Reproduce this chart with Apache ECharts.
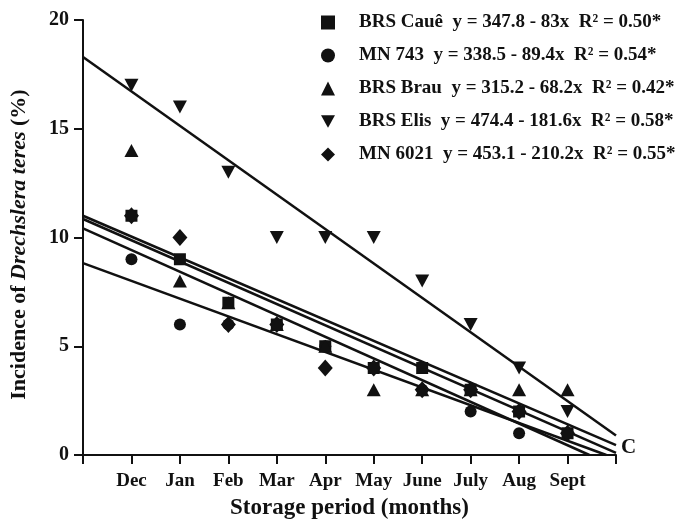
<!DOCTYPE html>
<html>
<head>
<meta charset="utf-8">
<script src="https://cdn.jsdelivr.net/npm/echarts@6/dist/echarts.min.js"></script>
<style>
html,body{margin:0;padding:0;background:#fff;}
#chart{width:677px;height:523px;}
</style>
</head>
<body>
<div id="chart"></div>
<script>
// ---- data ----
const monthTicks = ['', 'Dec', 'Jan', 'Feb', 'Mar', 'Apr', 'May', 'June', 'July', 'Aug', 'Sept', ''];
const monthX = [1, 2, 3, 4, 5, 6, 7, 8, 9, 10];
const cultivars = ['BRS Cauê', 'MN 743', 'BRS Brau', 'BRS Elis', 'MN 6021'];
const equations = [
  'y = 347.8 - 83x  R² = 0.50*',
  'y = 338.5 - 89.4x  R² = 0.54*',
  'y = 315.2 - 68.2x  R² = 0.42*',
  'y = 474.4 - 181.6x  R² = 0.58*',
  'y = 453.1 - 210.2x  R² = 0.55*'
];
const valuesCaue   = [11, 9, 7, 6, 5, 4, 4, 3, 2, 1];
const valuesMN743  = [9, 6, 6, 6, 5, 4, 3, 2, 1, 1];
const valuesBrau   = [14, 8, 7, 6, 5, 3, 3, 3, 3, 3];
const valuesElis   = [17, 16, 13, 10, 10, 10, 8, 6, 4, 2];
const valuesMN6021 = [11, 10, 6, 6, 4, 4, 3, 3, 2, 1];
// fitted lines as drawn (start / end points)
const lineCaue   = [[0, 11.0], [11, 0.45]];
const lineMN743  = [[0, 8.82], [10.8, 0]];
const lineBrau   = [[0, 10.85], [11, 0.1]];
const lineElis   = [[0, 18.3], [11, 0.9]];
const lineMN6021 = [[0, 10.42], [10.45, 0]];
const yTicks = [0, 5, 10, 15, 20];

const seriesValues = [valuesCaue, valuesMN743, valuesBrau, valuesElis, valuesMN6021];
const seriesLines = [lineCaue, lineMN743, lineBrau, lineElis, lineMN6021];
const symbols = ['rect', 'circle', 'triangle', 'path://M0,0 L10,0 L5,9 Z', 'diamond'];
const symbolSizes = [12, 12, [14, 13], [14, 13], [15, 17]];

const FONT = '"Liberation Serif", "Times New Roman", serif';
const INK = '#111';

const chart = echarts.init(document.getElementById('chart'), null, {renderer: 'canvas'});

const series = [];
seriesLines.forEach((ln, i) => {
  series.push({
    name: cultivars[i] + ' fit',
    type: 'line',
    data: ln,
    symbol: 'none',
    silent: true,
    z: 2,
    lineStyle: {color: INK, width: 2.5},
    animation: false
  });
});
seriesValues.forEach((vals, i) => {
  series.push({
    name: cultivars[i],
    type: 'scatter',
    data: vals.map((v, k) => [monthX[k], v]),
    symbol: symbols[i],
    symbolSize: symbolSizes[i],
    itemStyle: {color: INK, opacity: 1},
    z: 3,
    animation: false
  });
});

chart.setOption({
  backgroundColor: '#fff',
  animation: false,
  grid: {left: 83, right: 61, top: 20, bottom: 68, containLabel: false, outerBoundsMode: 'none'},
  legend: {
    data: cultivars.map((c, i) => ({name: c, icon: symbols[i]})),
    orient: 'vertical',
    left: 316,
    top: 7,
    itemWidth: 14,
    itemHeight: 14,
    itemGap: 12,
    selectedMode: false,
    formatter: function (name) {
      const i = cultivars.indexOf(name);
      return name + '  ' + equations[i];
    },
    textStyle: {
      fontFamily: FONT, fontWeight: 'bold', fontSize: 19, color: INK,
      lineHeight: 21, padding: [0, 0, 0, 19]
    },
    itemStyle: {color: INK, opacity: 1}
  },
  xAxis: {
    type: 'value',
    min: 0, max: 11, interval: 1,
    name: 'Storage period (months)',
    nameLocation: 'middle',
    nameGap: 42,
    nameTextStyle: {fontFamily: FONT, fontWeight: 'bold', fontSize: 23, color: INK},
    axisLine: {show: true, lineStyle: {color: INK, width: 2}},
    axisTick: {show: true, length: 9, lineStyle: {color: INK, width: 2}},
    axisLabel: {
      margin: 17,
      fontFamily: FONT, fontWeight: 'bold', fontSize: 19, color: INK,
      formatter: v => monthTicks[v] || ''
    },
    splitLine: {show: false}
  },
  yAxis: {
    type: 'value',
    min: yTicks[0], max: yTicks[yTicks.length - 1], interval: 5,
    name: 'Incidence of {i|Drechslera teres} (%)',
    nameLocation: 'middle',
    nameGap: 53,
    nameTextStyle: {
      fontFamily: FONT, fontWeight: 'bold', fontSize: 22, color: INK,
      padding: [0, 14, 0, 0],
      rich: {i: {fontFamily: FONT, fontWeight: 'bold', fontStyle: 'italic', fontSize: 22, color: INK}}
    },
    axisLine: {show: true, lineStyle: {color: INK, width: 2}},
    axisTick: {show: true, length: 9, lineStyle: {color: INK, width: 2}},
    axisLabel: {margin: 14, fontFamily: FONT, fontWeight: 'bold', fontSize: 20, color: INK},
    splitLine: {show: false}
  },
  graphic: [{
    type: 'text',
    left: 621,
    top: 437,
    style: {text: 'C', font: 'bold 21px ' + FONT, fill: INK}
  }],
  series: series
});
</script>
</body>
</html>
